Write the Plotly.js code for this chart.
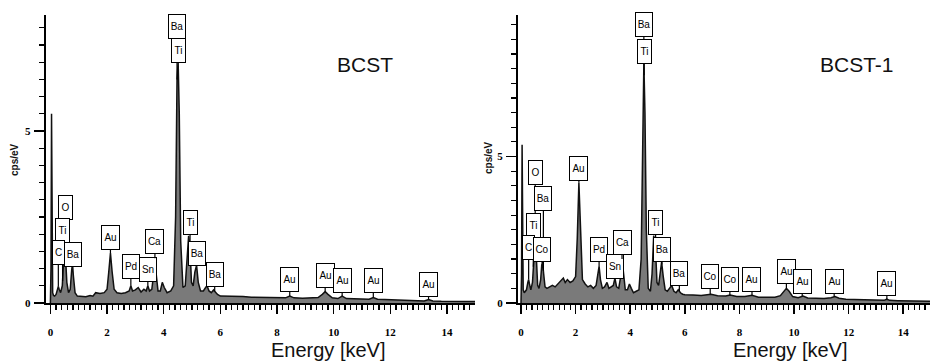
<!DOCTYPE html>
<html><head><meta charset="utf-8">
<script src="https://cdn.plot.ly/plotly-3.0.1.min.js"></script>
<style>html,body{margin:0;padding:0;background:#fff}#chart{width:930px;height:362px}</style>
</head><body><div id="chart"></div>
<script>
// ---- BCST spectrum (left) ----
const energyA = [0,0.02,0.04,0.06,0.08,0.11,0.15,0.2,0.25,0.28,0.31,0.36,0.42,0.47,0.5,0.53,0.58,0.64,0.7,0.75,0.78,0.81,0.87,0.95,1.1,1.25,1.4,1.5,1.6,1.75,1.9,2.0,2.06,2.12,2.18,2.25,2.35,2.5,2.65,2.78,2.84,2.9,3.0,3.1,3.2,3.3,3.38,3.44,3.5,3.58,3.64,3.69,3.74,3.8,3.88,3.95,4.02,4.12,4.25,4.35,4.42,4.47,4.51,4.55,4.6,4.68,4.76,4.83,4.88,4.93,4.98,5.04,5.1,5.16,5.22,5.3,5.4,5.48,5.53,5.6,5.68,5.76,5.82,5.9,6.0,6.2,6.5,6.8,7.1,7.4,7.7,8.0,8.3,8.45,8.6,8.9,9.2,9.45,9.6,9.7,9.8,9.95,10.15,10.3,10.45,10.7,11.0,11.25,11.4,11.55,11.8,12.1,12.4,12.7,13.0,13.2,13.35,13.5,13.8,14.1,14.4,14.7,15.0];
const countsA = [0,1.0,5.5,1.2,0.3,0.22,0.2,0.25,0.4,0.48,0.4,0.3,0.5,1.2,1.75,1.4,0.6,0.3,0.4,0.95,1.15,0.8,0.3,0.2,0.2,0.18,0.22,0.2,0.3,0.28,0.3,0.4,0.9,1.45,0.9,0.4,0.3,0.28,0.3,0.35,0.5,0.35,0.38,0.45,0.32,0.4,0.35,0.5,0.35,0.4,0.8,1.3,0.8,0.35,0.35,0.6,0.45,0.3,0.35,0.5,2.5,6.5,7.0,5.5,1.8,0.45,0.5,1.2,1.95,1.6,0.6,0.5,0.9,1.1,0.6,0.35,0.35,0.45,0.5,0.35,0.3,0.38,0.32,0.25,0.2,0.2,0.18,0.19,0.17,0.17,0.16,0.16,0.15,0.2,0.15,0.14,0.14,0.16,0.25,0.33,0.25,0.15,0.13,0.2,0.13,0.12,0.11,0.11,0.16,0.11,0.1,0.09,0.08,0.07,0.07,0.06,0.1,0.06,0.05,0.05,0.04,0.04,0.04];

// ---- BCST-1 spectrum (right) ----
const energyB = [0,0.02,0.04,0.06,0.08,0.12,0.16,0.2,0.25,0.28,0.31,0.36,0.42,0.47,0.52,0.56,0.61,0.66,0.72,0.76,0.79,0.83,0.88,0.95,1.05,1.15,1.25,1.35,1.45,1.55,1.62,1.7,1.8,1.9,2.0,2.06,2.12,2.18,2.25,2.35,2.45,2.55,2.65,2.75,2.81,2.86,2.91,2.98,3.06,3.15,3.22,3.3,3.38,3.44,3.5,3.58,3.65,3.7,3.76,3.82,3.9,3.97,4.04,4.12,4.22,4.32,4.4,4.45,4.5,4.54,4.59,4.66,4.74,4.8,4.86,4.92,4.98,5.04,5.1,5.15,5.21,5.28,5.36,5.45,5.52,5.6,5.68,5.76,5.84,5.92,6.0,6.3,6.6,6.96,7.2,7.5,7.66,7.9,8.2,8.46,8.7,9.0,9.3,9.5,9.62,9.72,9.82,9.95,10.15,10.33,10.5,10.8,11.1,11.35,11.5,11.65,11.9,12.2,12.5,12.8,13.1,13.3,13.4,13.5,13.8,14.1,14.4,14.7,15.0];
const countsB = [0,1.0,5.4,1.2,0.45,0.35,0.4,0.45,0.7,0.8,0.65,0.45,0.7,1.6,2.2,1.6,0.6,0.5,0.8,1.3,1.4,1.0,0.55,0.5,0.55,0.6,0.55,0.65,0.75,0.85,0.7,0.8,0.7,0.75,0.9,2.2,4.1,2.2,0.8,0.65,0.55,0.6,0.5,0.6,0.9,1.25,0.8,0.5,0.55,0.7,0.5,0.55,0.6,0.85,0.55,0.5,0.9,1.5,0.9,0.45,0.45,0.65,0.5,0.35,0.4,0.45,1.5,5.5,8.2,6.5,2.5,0.5,0.4,1.0,2.3,2.0,0.7,0.6,1.1,1.4,0.9,0.45,0.4,0.5,0.6,0.4,0.35,0.45,0.35,0.3,0.28,0.27,0.26,0.3,0.25,0.24,0.27,0.22,0.22,0.26,0.2,0.2,0.2,0.25,0.4,0.5,0.4,0.22,0.18,0.24,0.17,0.16,0.15,0.18,0.22,0.16,0.13,0.12,0.11,0.1,0.09,0.09,0.13,0.09,0.08,0.07,0.07,0.06,0.06];

// ---- peak labels ----
const labelNamesA = ['Ba','Ti','O','Ti','C','Ba','Au','Pd','Sn','Ca','Ti','Ba','Ba','Au','Au','Au','Au','Au'];
const labelEnergiesA = [4.47,4.51,0.53,0.43,0.28,0.78,2.12,2.84,3.44,3.69,4.93,5.16,5.8,8.45,9.7,10.3,11.4,13.35];
const labelLevelsA = [8.05,7.35,2.79,2.12,1.48,1.4,1.89,1.05,0.96,1.8,2.35,1.45,0.84,0.67,0.79,0.64,0.64,0.55];

const labelNamesB = ['Ba','Ti','O','Ba','Ti','C','Co','Au','Pd','Sn','Ca','Ti','Ba','Ba','Co','Co','Au','Au','Au','Au','Au'];
const labelEnergiesB = [4.5,4.51,0.52,0.82,0.45,0.28,0.78,2.12,2.86,3.44,3.7,4.93,5.16,5.8,6.93,7.65,8.46,9.72,10.3,11.47,13.4];
const labelLevelsB = [9.49,8.6,4.44,3.55,2.66,1.91,1.81,4.6,1.84,1.26,2.08,2.76,1.84,0.99,0.89,0.79,0.79,1.06,0.75,0.75,0.65];

const sampleNames = ['BCST','BCST-1'];
const xTitle = 'Energy [keV]';
const yTitle = 'cps/eV';

// look up spectrum height at an energy (for arrow tips)
function valueAt(es, cs, e){
  for(let i=1;i<es.length;i++){
    if(es[i]>=e){const t=(e-es[i-1])/(es[i]-es[i-1]);return cs[i-1]+t*(cs[i]-cs[i-1]);}
  }
  return cs[cs.length-1];
}
const boxW = {Au:15,Ba:14,Ti:11,O:11,C:9,Co:14,Pd:14,Sn:14,Ca:15};
const boxFont = {size:10,family:'Liberation Sans Narrow, Liberation Sans, Arial',color:'#000'};

function labels(names, es, levels, spE, spC, xr, yr){
  return names.map((n,i)=>({
    xref:xr, yref:yr, axref:xr, ayref:yr,
    x:es[i], y:valueAt(spE,spC,es[i]), ax:es[i], ay:levels[i],
    text:n, showarrow:true, arrowhead:0, arrowwidth:1.2, arrowcolor:'#000', standoff:0,
    bgcolor:'#fff', bordercolor:'#000', borderwidth:1, borderpad:1,
    width:boxW[n]||12, height:21, font:boxFont
  }));
}

const spectrumStyle = {mode:'lines', fill:'tozeroy', fillcolor:'#7a7a7a', line:{color:'#111', width:1.5}, hoverinfo:'skip'};
const traces = [
  Object.assign({x:energyA, y:countsA, xaxis:'x', yaxis:'y'}, spectrumStyle),
  Object.assign({x:energyB, y:countsB, xaxis:'x2', yaxis:'y2'}, spectrumStyle)
];

const W=930, H=362;
const tickFont = {family:'Liberation Serif, DejaVu Serif', size:11, color:'#000', weight:'bold'};
const xBase = {showline:true, linewidth:2, linecolor:'#000', ticks:'outside', ticklen:9, tickwidth:1.5, tickcolor:'#000',
  dtick:2, tick0:0, showgrid:false, zeroline:false, ticklabelstandoff:9, tickfont:tickFont,
  minor:{dtick:0.2, ticks:'outside', ticklen:5, tickwidth:1.2, tickcolor:'#000', showgrid:false}};
const yBase = {showline:true, linewidth:2, linecolor:'#000', ticks:'outside', ticklen:10, tickwidth:1.5, tickcolor:'#000',
  dtick:5, tick0:0, showgrid:false, zeroline:false, ticklabelstandoff:1, tickfont:tickFont,
  minor:{dtick:0.5, ticks:'outside', ticklen:5, tickwidth:1.2, tickcolor:'#000', showgrid:false}};
const yDom = [(H-303)/H, (H-15)/H];

function note(x, y, text, font, extra){
  return Object.assign({xref:'paper', yref:'paper', x:x/W, y:1-y/H, text:text, showarrow:false,
    xanchor:'center', yanchor:'middle', font:font}, extra||{});
}

const layout = {
  width:W, height:H, margin:{l:0,r:0,t:0,b:0}, showlegend:false,
  paper_bgcolor:'#fff', plot_bgcolor:'#fff',
  xaxis:Object.assign({}, xBase, {domain:[45.7/W, 475/W], range:[-0.166, 14.99], anchor:'y'}),
  yaxis:Object.assign({}, yBase, {domain:yDom, range:[0, 288/34.4], anchor:'x'}),
  xaxis2:Object.assign({}, xBase, {domain:[518/W, 1], range:[-0.11, 14.98], anchor:'y2'}),
  yaxis2:Object.assign({}, yBase, {domain:yDom, range:[0, 288/29.3], anchor:'x2'}),
  annotations: [].concat(
    labels(labelNamesA, labelEnergiesA, labelLevelsA, energyA, countsA, 'x', 'y'),
    labels(labelNamesB, labelEnergiesB, labelLevelsB, energyB, countsB, 'x2', 'y2'),
    [
      note(365, 64, sampleNames[0], {family:'Liberation Sans Narrow, Liberation Sans', size:21, color:'#111'}),
      note(857, 64, sampleNames[1], {family:'Liberation Sans Narrow, Liberation Sans', size:21, color:'#111'}),
      note(328, 350, xTitle, {family:'Liberation Sans, Arial', size:20, color:'#111'}),
      note(790, 350, xTitle, {family:'Liberation Sans, Arial', size:20, color:'#111'}),
      note(14, 160, yTitle, {family:'Liberation Sans, Arial', size:10, color:'#111', weight:'bold'}, {textangle:-90}),
      note(489, 157, yTitle, {family:'Liberation Sans, Arial', size:10, color:'#111', weight:'bold'}, {textangle:-90})
    ])
};

Plotly.newPlot('chart', traces, layout, {staticPlot:true, displayModeBar:false});
</script></body></html>
